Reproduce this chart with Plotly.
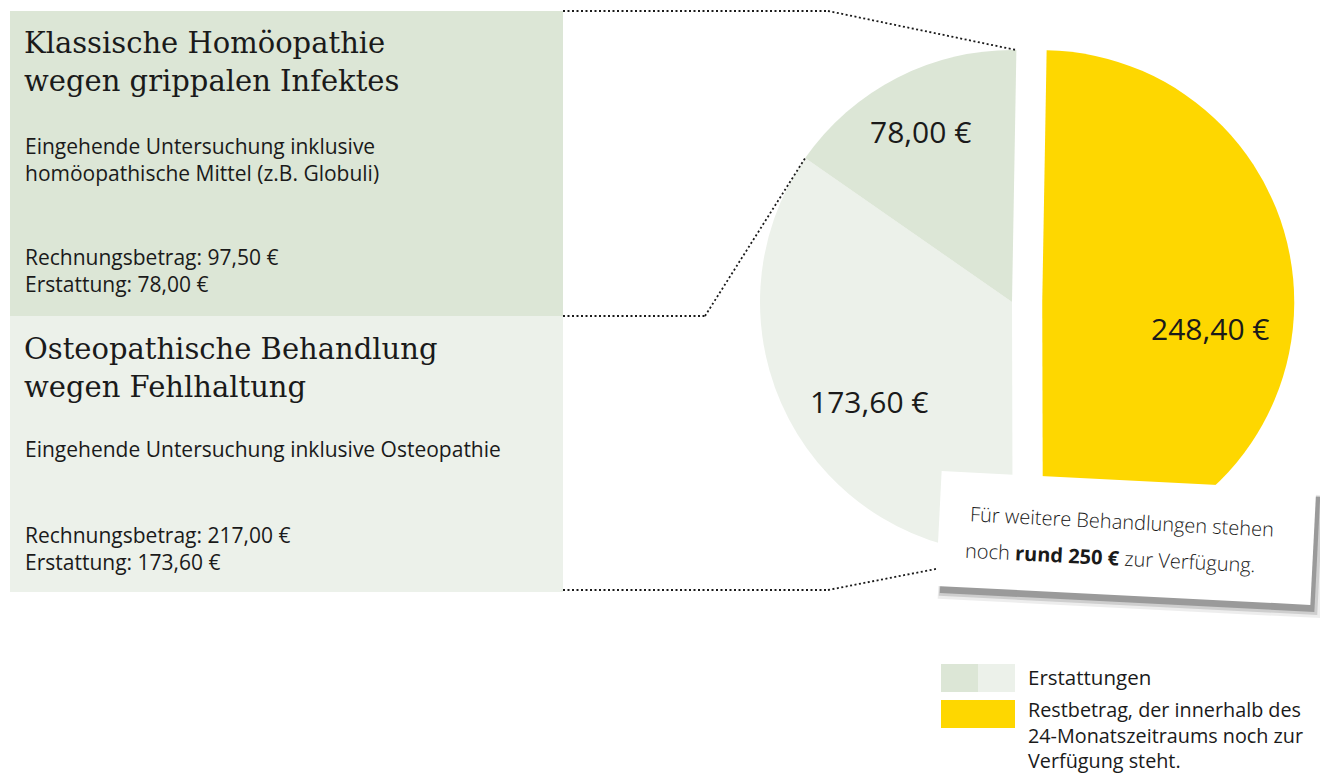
import math
import plotly.graph_objects as go

W, H = 1320, 775

# ---------------- data ----------------
slice_labels = ["Klassische Homöopathie", "Osteopathische Behandlung", "Restbetrag"]
slice_values = [78.00, 173.60, 248.40]
slice_texts = ["78,00 €", "173,60 €", "248,40 €"]
slice_colors = ["#DCE6D6", "#ECF1EA", "#FED700"]
slice_pull = [0, 0, 0.12]

box_titles = [["Klassische Homöopathie", "wegen grippalen Infektes"],
              ["Osteopathische Behandlung", "wegen Fehlhaltung"]]
box_desc = [["Eingehende Untersuchung inklusive", "homöopathische Mittel (z.B. Globuli)"],
            ["Eingehende Untersuchung inklusive Osteopathie"]]
box_amounts = [["Rechnungsbetrag: 97,50 €", "Erstattung: 78,00 €"],
               ["Rechnungsbetrag: 217,00 €", "Erstattung: 173,60 €"]]
note_lines = ["Für weitere Behandlungen stehen",
              "noch <b>rund 250 €</b> zur Verfügung."]
legend_lines = [["Erstattungen"],
                ["Restbetrag, der innerhalb des", "24-Monatszeitraums noch zur", "Verfügung steht."]]

# ---------------- layout constants (pixels) ----------------
PIE_CX, PIE_CY, PIE_R = 1012, 302, 252
ROT = 1
SERIF = "DejaVu Serif"
SANS = "Open Sans"
INK = "#1a1a1a"
# label placement per slice: (fraction of radius, angular nudge in degrees)
LABEL_POS = [(0.77, -1.2), (0.69, -7.1), (0.675, 8.4)]


def px(x):
    return x / W


def py(y):
    return 1 - y / H


half = PIE_R * (1 + max(slice_pull))
dom_x = [px(PIE_CX - half), px(PIE_CX + half)]
dom_y = [py(PIE_CY + half), py(PIE_CY - half)]

# clockwise from 12 o'clock: remaining amount first, then the refunds
order = list(range(len(slice_values)))[::-1]

fig = go.Figure()
fig.add_trace(go.Pie(
    labels=[slice_labels[i] for i in order],
    values=[slice_values[i] for i in order],
    textinfo="none",
    marker=dict(colors=[slice_colors[i] for i in order], line=dict(width=0)),
    pull=[slice_pull[i] for i in order], sort=False, direction="clockwise", rotation=ROT,
    domain=dict(x=dom_x, y=dom_y),
    hoverinfo="skip", showlegend=False,
))

tot = sum(slice_values)


def angle_at(k):
    """clockwise angle (deg, from 12 o'clock) after k refund slices going counter-clockwise"""
    return ROT - 360 * sum(slice_values[:k]) / tot


def boundary(k):
    a = math.radians(angle_at(k))
    return PIE_CX + PIE_R * math.sin(a), PIE_CY - PIE_R * math.cos(a)


shapes = []
box_y = [(11, 316), (316, 592)]
for i, (y0, y1) in enumerate(box_y):
    shapes.append(dict(type="rect", xref="paper", yref="paper",
                       x0=px(10), x1=px(563), y0=py(y1), y1=py(y0),
                       fillcolor=slice_colors[i], line=dict(width=0), layer="below"))

conn = [((563, 11), (828, 11), boundary(0)),
        ((563, 316), (705, 316), boundary(1)),
        ((563, 590), (828, 590), boundary(2))]
for a, b, c in conn:
    for p, q in ((a, b), (b, c)):
        shapes.append(dict(type="line", xref="paper", yref="paper",
                           x0=px(p[0]), y0=py(p[1]), x1=px(q[0]), y1=py(q[1]),
                           line=dict(color=INK, width=1.8, dash="2px,2.5px")))

shapes.append(dict(type="rect", xref="paper", yref="paper", x0=px(941), x1=px(978),
                   y0=py(692), y1=py(664), fillcolor=slice_colors[0], line=dict(width=0)))
shapes.append(dict(type="rect", xref="paper", yref="paper", x0=px(978), x1=px(1015),
                   y0=py(692), y1=py(664), fillcolor=slice_colors[1], line=dict(width=0)))
shapes.append(dict(type="rect", xref="paper", yref="paper", x0=px(941), x1=px(1015),
                   y0=py(728), y1=py(700), fillcolor=slice_colors[2], line=dict(width=0)))

annotations = []


def text(t, x, y, size, family, anchor="left", angle=0, color=INK, weight=None):
    f = dict(family=family, size=size, color=color)
    if weight:
        f["weight"] = weight
    annotations.append(dict(text=t, x=px(x), y=py(y), xref="paper", yref="paper",
                            xanchor=anchor, yanchor="middle", showarrow=False, align="left",
                            textangle=angle, font=f, borderpad=0, borderwidth=0))


# slice value labels, positioned along each slice's bisector
for i, v in enumerate(slice_values):
    a0 = angle_at(i)
    a1 = angle_at(i + 1)
    mid = (a0 + a1) / 2
    cx, cy = PIE_CX, PIE_CY
    if slice_pull[i]:
        m = math.radians(mid)
        cx += slice_pull[i] * PIE_R * math.sin(m)
        cy -= slice_pull[i] * PIE_R * math.cos(m)
    frac, nudge = LABEL_POS[i]
    m = math.radians(mid + nudge)
    text(slice_texts[i], cx + frac * PIE_R * math.sin(m), cy - frac * PIE_R * math.cos(m),
         30, SANS, anchor="center")

title_y = [62, 368]
desc_y = [159.5, 449]
amt_y = [270.5, 548.5]
for i in range(2):
    text("<br>".join(box_titles[i]), 24, title_y[i], 29, SERIF)
    text("<br>".join(box_desc[i]), 25, desc_y[i], 21, SANS)
    text("<br>".join(box_amounts[i]), 25, amt_y[i], 21, SANS)

# note card (rotated) with soft shadow
NOTE_ANGLE = 2.9
for dx, dy, grow, alpha in [(6, 9, 8, 0.07), (5, 8, 4, 0.13), (4, 7, 0, 0.25)]:
    annotations.append(dict(text=" ", x=px(1126 + dx), y=py(538 + dy), xref="paper", yref="paper",
                            xanchor="center", yanchor="middle", showarrow=False,
                            textangle=NOTE_ANGLE, width=372 + grow, height=112 + grow,
                            bgcolor=f"rgba(0,0,0,{alpha})"))
annotations.append(dict(text=" ", x=px(1126), y=py(538), xref="paper", yref="paper",
                        xanchor="center", yanchor="middle", showarrow=False,
                        textangle=NOTE_ANGLE, width=372, height=112, bgcolor="white"))
text(note_lines[0], 1122, 521, 20, SANS, anchor="center", angle=NOTE_ANGLE, weight=300)
text(note_lines[1], 1110, 557, 20, SANS, anchor="center", angle=NOTE_ANGLE, weight=300)

# legend text
text("<br>".join(legend_lines[0]), 1028, 677, 20.5, SANS)
text("<br>".join(legend_lines[1]), 1028, 735, 19.8, SANS)

fig.update_layout(
    width=W, height=H, margin=dict(l=0, r=0, t=0, b=0),
    paper_bgcolor="white", plot_bgcolor="white",
    shapes=shapes, annotations=annotations, showlegend=False,
)

fig.write_html("out.html", config={"displayModeBar": False},
               post_script="document.body.style.margin='0';")
